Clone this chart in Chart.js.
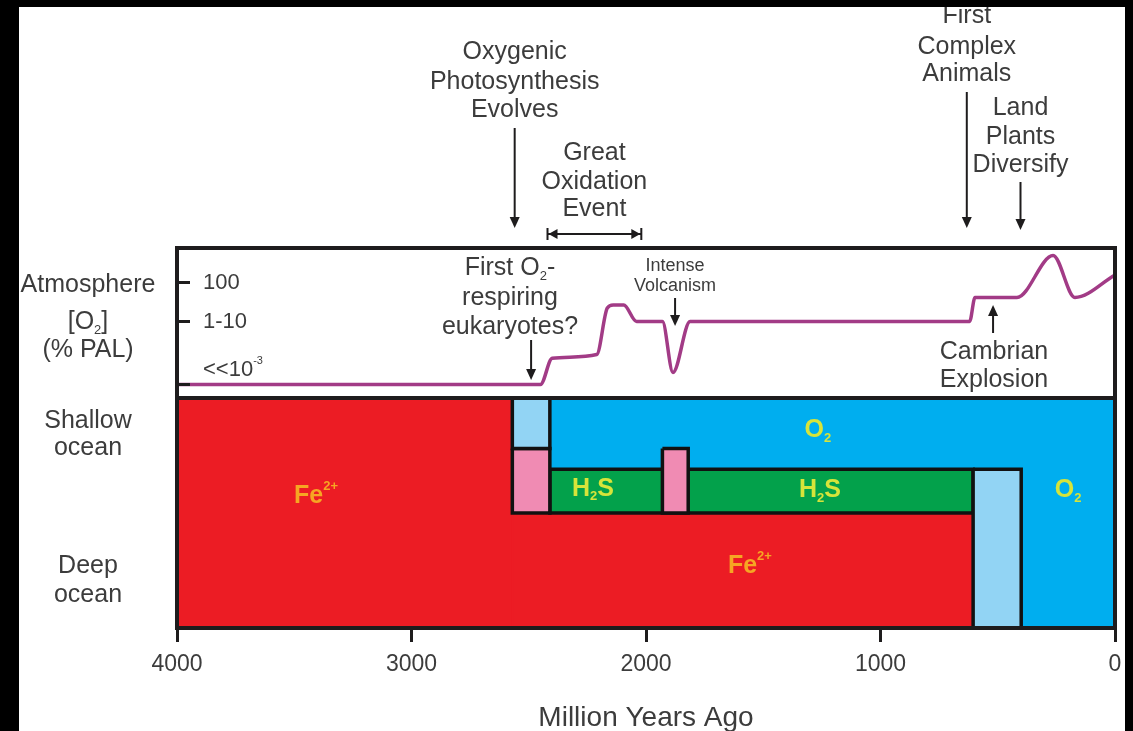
<!DOCTYPE html>
<html>
<head>
<meta charset="utf-8">
<script src="https://cdn.jsdelivr.net/npm/chart.js@4.4.1/dist/chart.umd.min.js"></script>
<style>
  html, body { margin: 0; padding: 0; background: #000; }
  #wrap { position: absolute; left: 19px; top: 7px; width: 1106px; height: 724px; background: #fff; }
  canvas { display: block; }
</style>
</head>
<body>
<div id="wrap"><canvas id="oxygenChart" width="1106" height="724"></canvas></div>
<script>
// ---- data ----
// atmospheric O2 curve: age (Ma) and level on an index scale (0.9 = <<10^-3, 5.1 = 1-10, 7.7 = 100 % PAL)
const o2Ages   = [4000, 2450, 2400, 2210, 2165, 2140, 2095, 2040, 1930, 1885, 1812, 620, 597, 418, 264, 171, 0];
const o2Levels = [0.9,  0.9,  2.65, 2.9,  6.0,  6.2,  6.2,  5.1,  5.1,  1.7,  5.1,  5.1, 6.7, 6.7, 9.5, 6.7, 8.2];

const atmTickLevels = [7.7, 5.1, 0.9];
const atmTickLabels = ['100', '1-10', '<<10^{-3}'];

const xTickValues = [4000, 3000, 2000, 1000, 0];

// ocean redox zones: age range (Ma) and depth range (0 = surface, 100 = deep)
const zoneKinds   = ['O2', 'O2', 'Fe2+', 'Fe2+', 'H2S', 'pink', 'pink', 'paleO2', 'paleO2'];
const zoneStartMa = [2410, 400,  4000,   2570,   2410,  2570,   1930,   2570,     605];
const zoneEndMa   = [0,    0,    2570,   605,    605,   2410,   1820,   2410,     400];
const zoneTop     = [0,    31,   0,      50,     31,    22,     22,     0,        31];
const zoneBottom  = [31,   100,  100,    100,    50,    50,     50,     22,       100];

const oceanLabelText  = ['Fe^{2+}', 'Fe^{2+}', 'O_{2}', 'O_{2}', 'H_{2}S', 'H_{2}S'];
const oceanLabelMa    = [3407, 1557, 1267, 200, 2226, 1258];
const oceanLabelDepth = [42.5, 73, 14, 40, 39.5, 40];

// events above the chart
const eventLines = [['Oxygenic', 'Photosynthesis', 'Evolves'], ['First', 'Complex', 'Animals'], ['Land', 'Plants', 'Diversify']];
const eventMa = [2560, 632, 403];
const goeLines = ['Great', 'Oxidation', 'Event'];
const goeStartMa = 2420;
const goeEndMa = 2020;

// notes inside the atmosphere panel
const noteLines = [['First O_{2}-', 'respiring', 'eukaryotes?'], ['Intense', 'Volcanism'], ['Cambrian', 'Explosion']];
const noteLabelMa = [2580, 1876, 516];
const noteArrowMa = [2490, 1876, 520];

// ---- styles ----
const FONT = "'Liberation Sans', Arial, sans-serif";
const TEXT = '#3c3c3c';
const FRAME = '#1e1c1d';
const zoneColors = { 'O2': '#00aeef', 'Fe2+': '#ec1c24', 'H2S': '#03a14b', 'pink': '#f08bb3', 'paleO2': '#92d4f4' };
const outlined = { 'H2S': true, 'pink': true, 'paleO2': true };
const labelColors = { 'Fe': '#f6a623', 'O': '#d6e43a', 'H': '#d6e43a' };

function rectPoints(i) {
  return [
    { x: zoneStartMa[i], y: zoneTop[i] },
    { x: zoneEndMa[i], y: zoneTop[i] },
    { x: zoneEndMa[i], y: zoneBottom[i] },
    { x: zoneStartMa[i], y: zoneBottom[i] },
    { x: zoneStartMa[i], y: zoneTop[i] }
  ];
}

// chart.js paints higher "order" first, so later zones end up on top
const zoneDatasets = zoneKinds.map((kind, i) => ({
  label: kind,
  data: rectPoints(i),
  yAxisID: 'yOcean',
  order: 100 - i,
  showLine: true,
  fill: 'shape',
  backgroundColor: zoneColors[kind],
  borderColor: outlined[kind] ? '#111' : zoneColors[kind],
  borderWidth: outlined[kind] ? 3.5 : 2,
  borderJoinStyle: 'miter',
  pointRadius: 0,
  tension: 0
}));

const o2Dataset = {
  label: 'Atmospheric O2',
  data: o2Ages.map((a, i) => ({ x: a, y: o2Levels[i] })),
  yAxisID: 'yAtm',
  order: 0,
  showLine: true,
  fill: false,
  borderColor: '#a23b86',
  borderWidth: 3.5,
  pointRadius: 0,
  cubicInterpolationMode: 'monotone'
};

// simple rich text: _{sub} and ^{sup}
function drawRich(ctx, text, x, y, size, bold, color, align) {
  const parts = [];
  const re = /([_^])\{([^}]*)\}/g;
  let last = 0, m;
  while ((m = re.exec(text))) {
    if (m.index > last) parts.push({ t: text.slice(last, m.index), k: '' });
    parts.push({ t: m[2], k: m[1] });
    last = re.lastIndex;
  }
  if (last < text.length) parts.push({ t: text.slice(last), k: '' });
  const fontFor = p => (bold ? 'bold ' : '') + Math.round(p.k ? size * 0.5 : size) + 'px ' + FONT;
  let total = 0;
  parts.forEach(p => { ctx.font = fontFor(p); p.w = ctx.measureText(p.t).width; total += p.w; });
  let cx = align === 'left' ? x : x - total / 2;
  ctx.fillStyle = color;
  ctx.textAlign = 'left';
  ctx.textBaseline = 'middle';
  parts.forEach(p => {
    ctx.font = fontFor(p);
    const dy = p.k === '_' ? size * 0.32 : p.k === '^' ? -size * 0.38 : 0;
    ctx.fillText(p.t, cx, y + dy);
    cx += p.w;
  });
}

function arrow(ctx, x, yFrom, yTo) {
  const dir = yTo > yFrom ? 1 : -1;
  ctx.strokeStyle = FRAME;
  ctx.fillStyle = FRAME;
  ctx.lineWidth = 2;
  ctx.beginPath();
  ctx.moveTo(x, yFrom);
  ctx.lineTo(x, yTo - dir * 8);
  ctx.stroke();
  ctx.beginPath();
  ctx.moveTo(x, yTo);
  ctx.lineTo(x - 5, yTo - dir * 11);
  ctx.lineTo(x + 5, yTo - dir * 11);
  ctx.closePath();
  ctx.fill();
}

const panelPlugin = {
  id: 'panels',
  afterDatasetsDraw(chart) {
    const ctx = chart.ctx;
    const xs = chart.scales.x, atm = chart.scales.yAtm, ocean = chart.scales.yOcean;
    const left = chart.chartArea.left, right = chart.chartArea.right;
    ctx.save();
    ctx.strokeStyle = FRAME;
    ctx.lineWidth = 4;
    ctx.strokeRect(left, atm.top, right - left, atm.bottom - atm.top);
    ctx.strokeRect(left, ocean.top, right - left, ocean.bottom - ocean.top);

    // atmosphere ticks inside the frame
    ctx.lineWidth = 3;
    atmTickLevels.forEach((lv, i) => {
      const y = atm.getPixelForValue(lv);
      ctx.beginPath();
      ctx.moveTo(left, y);
      ctx.lineTo(left + 13, y);
      ctx.stroke();
      drawRich(ctx, atmTickLabels[i], left + 26, i === 2 ? y - 15 : y, 22, false, TEXT, 'left');
    });

    // ocean labels
    oceanLabelText.forEach((t, i) => {
      drawRich(ctx, t, xs.getPixelForValue(oceanLabelMa[i]), ocean.getPixelForValue(oceanLabelDepth[i]),
        25, true, labelColors[t.slice(0, t[1] === 'e' ? 2 : 1)]);
    });
    ctx.restore();
  },
  afterDraw(chart) {
    const ctx = chart.ctx;
    const xs = chart.scales.x, atm = chart.scales.yAtm, ocean = chart.scales.yOcean;
    const left = chart.chartArea.left;
    const T = atm.top;
    ctx.save();

    // events above the frame
    const eventLineY = [[-196, -166, -138], [-232, -201, -174], [-140, -111, -83]];
    const eventArrowY = [[-120, -20], [-156, -20], [-66, -18]];
    eventLines.forEach((lines, i) => {
      const x = xs.getPixelForValue(eventMa[i]);
      lines.forEach((l, j) => drawRich(ctx, l, x, T + eventLineY[i][j], 25, false, TEXT));
      arrow(ctx, x, T + eventArrowY[i][0], T + eventArrowY[i][1]);
    });

    // Great Oxidation Event span
    const xa = xs.getPixelForValue(goeStartMa), xb = xs.getPixelForValue(goeEndMa);
    [-95, -66, -39].forEach((dy, j) => drawRich(ctx, goeLines[j], (xa + xb) / 2, T + dy, 25, false, TEXT));
    const yb = T - 14;
    ctx.strokeStyle = FRAME;
    ctx.fillStyle = FRAME;
    ctx.lineWidth = 2;
    ctx.beginPath();
    ctx.moveTo(xa, yb); ctx.lineTo(xb, yb);
    ctx.moveTo(xa, yb - 6); ctx.lineTo(xa, yb + 6);
    ctx.moveTo(xb, yb - 6); ctx.lineTo(xb, yb + 6);
    ctx.stroke();
    ctx.beginPath();
    ctx.moveTo(xa + 1, yb); ctx.lineTo(xa + 10, yb - 5); ctx.lineTo(xa + 10, yb + 5); ctx.closePath();
    ctx.moveTo(xb - 1, yb); ctx.lineTo(xb - 10, yb - 5); ctx.lineTo(xb - 10, yb + 5); ctx.closePath();
    ctx.fill();

    // notes inside the atmosphere panel
    const noteLineY = [[20, 50, 79], [18, 38], [104, 132]];
    const noteSize = [25, 18, 25];
    const noteArrowY = [[92, 132], [50, 78], [85, 57]];
    noteLines.forEach((lines, i) => {
      const x = xs.getPixelForValue(noteLabelMa[i]);
      lines.forEach((l, j) => drawRich(ctx, l, x, T + noteLineY[i][j], noteSize[i], false, TEXT));
      arrow(ctx, xs.getPixelForValue(noteArrowMa[i]), T + noteArrowY[i][0], T + noteArrowY[i][1]);
    });

    // row labels on the left
    const lx = left - 89;
    drawRich(ctx, 'Atmosphere', lx, T + 37, 25, false, TEXT);
    drawRich(ctx, '[O_{2}]', lx, T + 74, 25, false, TEXT);
    drawRich(ctx, '(% PAL)', lx, T + 102, 25, false, TEXT);
    const O = ocean.top;
    drawRich(ctx, 'Shallow', lx, O + 23, 25, false, TEXT);
    drawRich(ctx, 'ocean', lx, O + 50, 25, false, TEXT);
    drawRich(ctx, 'Deep', lx, O + 168, 25, false, TEXT);
    drawRich(ctx, 'ocean', lx, O + 197, 25, false, TEXT);
    ctx.restore();
  }
};

const ctx = document.getElementById('oxygenChart').getContext('2d');
const oxygenChart = new Chart(ctx, {
  type: 'scatter',
  data: { datasets: [...zoneDatasets, o2Dataset] },
  options: {
    responsive: false,
    animation: false,
    layout: { padding: { left: 158, right: 10, top: 241, bottom: 0 } },
    plugins: { legend: { display: false }, tooltip: { enabled: false } },
    scales: {
      x: {
        type: 'linear', min: 0, max: 4000, reverse: true, position: 'bottom',
        afterFit: s => { s.height = 103; s.paddingLeft = 0; s.paddingRight = 0; },
        afterBuildTicks: s => { s.ticks = xTickValues.map(v => ({ value: v })); },
        grid: { drawOnChartArea: false, drawTicks: true, tickLength: 14, lineWidth: 3, color: FRAME },
        border: { display: false },
        ticks: { padding: 9, maxRotation: 0, autoSkip: false, color: TEXT, font: { family: FONT, size: 23 },
          callback: v => String(v) },
        title: { display: true, text: 'Million Years Ago', color: TEXT, font: { family: FONT, size: 28, lineHeight: 1 }, padding: { top: 0, bottom: -1 } }
      },
      // stacked panels: the first one listed ends up at the bottom
      yOcean: { type: 'linear', display: false, position: 'left', stack: 'panels', stackWeight: 230, min: 0, max: 100, reverse: true },
      yAtm: { type: 'linear', display: false, position: 'left', stack: 'panels', stackWeight: 150, min: 0, max: 10 }
    }
  },
  plugins: [panelPlugin]
});
</script>
</body>
</html>
